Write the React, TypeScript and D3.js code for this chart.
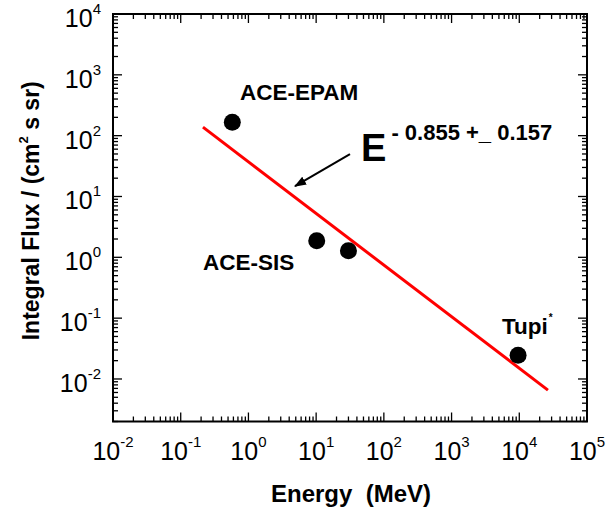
import React from 'react';
import * as d3 from 'd3';

// measured points (energy in MeV, integral flux per cm^2 s sr)
const pointEnergy = [0.578, 10.2, 30, 9600];
const pointFlux = [166, 1.87, 1.28, 0.0245];

// power-law fit E^-0.855, end points as drawn
const fitEnergy = [0.213, 26500];
const fitFlux = [138, 0.00655];

const xDecades = [-2, -1, 0, 1, 2, 3, 4, 5];
const yDecades = [-2, -1, 0, 1, 2, 3, 4];

const labelNames = ['ACE-EPAM', 'ACE-SIS', 'Tupi'];
const labelEnergy = [0.75, 0.213, 5560];
const labelFlux = [385, 0.63, 0.0546];

// arrow pointing to fit line
const arrowEnergy = [31.6, 4.87];
const arrowFlux = [49.8, 14.8];

const W = 610;
const H = 514;
const FONT = '"Liberation Sans", Arial, Helvetica, sans-serif';

const App = () => {
  const x = d3.scaleLog().domain([1e-2, 1e5]).range([113, 587]);
  const y = d3.scaleLog().domain([0.002, 1e4]).range([421.5, 14]);
  const [x0, x1] = x.range();
  const [y0, y1] = y.range();

  const minors = (dom: number[]) => {
    const out: number[] = [];
    const lo = Math.floor(Math.log10(dom[0]));
    const hi = Math.ceil(Math.log10(dom[1]));
    for (let e = lo; e < hi; e++) {
      for (let k = 2; k <= 9; k++) {
        const v = k * Math.pow(10, e);
        if (v >= dom[0] && v <= dom[1]) out.push(v);
      }
    }
    return out;
  };
  const xMinor = minors(x.domain());
  const yMinor = minors(y.domain());

  const line = d3.line<number>()
    .x((_, i) => x(fitEnergy[i]))
    .y((_, i) => y(fitFlux[i]));

  const MAJ = 9;
  const MIN = 5;

  return (
    <svg
      width={W}
      height={H}
      style={{ position: 'absolute', left: 0, top: 0, background: '#fff' }}
      fontFamily={FONT}
    >
      <defs>
        <marker id="ah" viewBox="0 0 12 10" refX="11" refY="5" markerWidth="6" markerHeight="5" orient="auto">
          <path d="M0,0.5 L12,5 L0,9.5 Z" fill="#000" />
        </marker>
      </defs>

      {/* ticks, all pointing inward */}
      <g stroke="#000" strokeWidth={1.3}>
        {xDecades.map(d => {
          const px = x(Math.pow(10, d));
          return (
            <g key={'xM' + d}>
              <line x1={px} x2={px} y1={y0} y2={y0 - MAJ} />
              <line x1={px} x2={px} y1={y1} y2={y1 + MAJ} />
            </g>
          );
        })}
        {xMinor.map((v, i) => (
          <g key={'xm' + i}>
            <line x1={x(v)} x2={x(v)} y1={y0} y2={y0 - MIN} />
            <line x1={x(v)} x2={x(v)} y1={y1} y2={y1 + MIN} />
          </g>
        ))}
        {yDecades.map(d => {
          const py = y(Math.pow(10, d));
          return (
            <g key={'yM' + d}>
              <line x1={x0} x2={x0 + MAJ} y1={py} y2={py} />
              <line x1={x1} x2={x1 - MAJ} y1={py} y2={py} />
            </g>
          );
        })}
        {yMinor.map((v, i) => (
          <g key={'ym' + i}>
            <line x1={x0} x2={x0 + MIN} y1={y(v)} y2={y(v)} />
            <line x1={x1} x2={x1 - MIN} y1={y(v)} y2={y(v)} />
          </g>
        ))}
      </g>

      {/* frame */}
      <rect x={x0} y={y1} width={x1 - x0} height={y0 - y1} fill="none" stroke="#000" strokeWidth={2} />

      {/* tick labels */}
      {xDecades.map(d => (
        <text key={'xl' + d} x={x(Math.pow(10, d))} y={460} textAnchor="middle" fontSize={25}>
          <tspan>10</tspan>
          <tspan fontSize={15} dy={-13}>{String(d)}</tspan>
        </text>
      ))}
      {yDecades.map(d => (
        <text key={'yl' + d} x={101} y={y(Math.pow(10, d)) + 13} textAnchor="end" fontSize={25}>
          <tspan>10</tspan>
          <tspan fontSize={15} dy={-13}>{String(d)}</tspan>
        </text>
      ))}

      {/* axis titles */}
      <text x={351} y={502} textAnchor="middle" fontSize={24} fontWeight="bold" style={{ whiteSpace: 'pre' }}>
        {'Energy  (MeV)'}
      </text>
      <text
        transform={`translate(39,${(y0 + y1) / 2 - 7}) rotate(-90)`}
        textAnchor="middle"
        fontSize={23}
        fontWeight="bold"
      >
        <tspan>Integral Flux / (cm</tspan>
        <tspan fontSize={13} dy={-11}>2</tspan>
        <tspan dy={11}> s sr)</tspan>
      </text>

      {/* fit line */}
      <path d={line(fitEnergy) || ''} fill="none" stroke="#ff0000" strokeWidth={3} />

      {/* data points */}
      {pointEnergy.map((e, i) => (
        <circle key={'p' + i} cx={x(e)} cy={y(pointFlux[i])} r={8.5} fill="#000" />
      ))}

      {/* labels */}
      {labelNames.map((n, i) => (
        <text key={n} x={x(labelEnergy[i])} y={y(labelFlux[i])} fontSize={22.5} fontWeight="bold">
          <tspan>{n}</tspan>
          {n === 'Tupi' && <tspan fontSize={10} dx={1} dy={-13}>*</tspan>}
        </text>
      ))}

      {/* fit annotation */}
      <line
        x1={x(arrowEnergy[0])}
        y1={y(arrowFlux[0])}
        x2={x(arrowEnergy[1])}
        y2={y(arrowFlux[1])}
        stroke="#000"
        strokeWidth={2}
        markerEnd="url(#ah)"
      />
      <text x={x(46)} y={y(38.2)} fontWeight="bold" style={{ whiteSpace: 'pre' }}>
        <tspan fontSize={38}>E</tspan>
        <tspan fontSize={22} dx={5} dy={-21}>{'- 0.855 +_ 0.157'}</tspan>
      </text>
    </svg>
  );
};

export default App;
